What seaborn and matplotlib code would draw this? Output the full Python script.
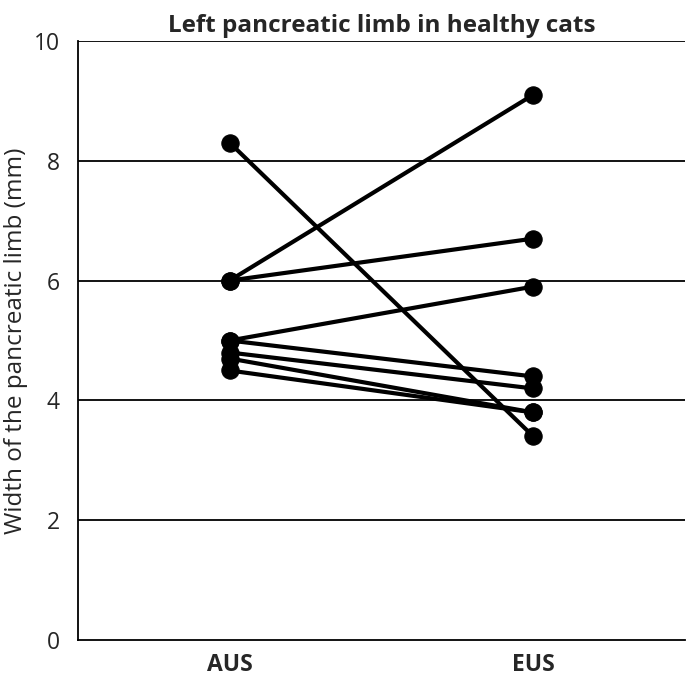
import matplotlib
matplotlib.use('Agg')
import matplotlib.pyplot as plt
import seaborn as sns
import pandas as pd

# paired measurements, one line per cat
methods = ['AUS', 'EUS']
aus = [8.3, 6.0, 6.0, 5.0, 5.0, 4.8, 4.7, 4.5]
eus = [3.4, 9.1, 6.7, 5.9, 4.4, 4.2, 3.8, 3.8]

rows = []
for i, (a, e) in enumerate(zip(aus, eus)):
    rows.append(dict(cat=i, method=methods[0], width=a))
    rows.append(dict(cat=i, method=methods[1], width=e))
df = pd.DataFrame(rows)

sns.set_style('white')
plt.rcParams['font.family'] = ['Open Sans', 'DejaVu Sans']

fig, ax = plt.subplots(figsize=(6.88, 6.79), dpi=100)
fig.subplots_adjust(left=0.113, right=0.996, top=0.94, bottom=0.057)

for y in [2, 4, 6, 8, 10]:
    ax.axhline(y, color='black', lw=1.3, zorder=1)

sns.lineplot(data=df, x='method', y='width', units='cat', estimator=None,
             color='black', lw=3, marker='o', markersize=12.5,
             markeredgecolor='black', ax=ax, zorder=3)

ax.set_xlim(-0.5, 1.5)
ax.set_ylim(0, 10)
ax.set_yticks([0, 2, 4, 6, 8, 10])
ax.set_xticks([0, 1])
ax.set_xticklabels(methods, fontweight='bold', fontsize=16.5)
ax.set_xticks([-0.5, 0.5, 1.5], minor=True)
ax.tick_params(axis='x', which='major', length=0, pad=9)
ax.tick_params(axis='x', which='minor', length=6, width=1.3, direction='out', color='black')
ax.tick_params(axis='y', length=7, width=1.3, direction='out', color='black', labelsize=16.5, pad=6)
ax.set_xlabel('')
ax.set_ylabel('Width of the pancreatic limb (mm)', fontsize=17.5, labelpad=4)
ax.set_title('Left pancreatic limb in healthy cats', fontweight='bold', fontsize=17.5, pad=6)

for s in ['top', 'right']:
    ax.spines[s].set_visible(False)
for s in ['left', 'bottom']:
    ax.spines[s].set_color('black')
    ax.spines[s].set_linewidth(1.3)

fig.savefig('out.png', dpi=100)
